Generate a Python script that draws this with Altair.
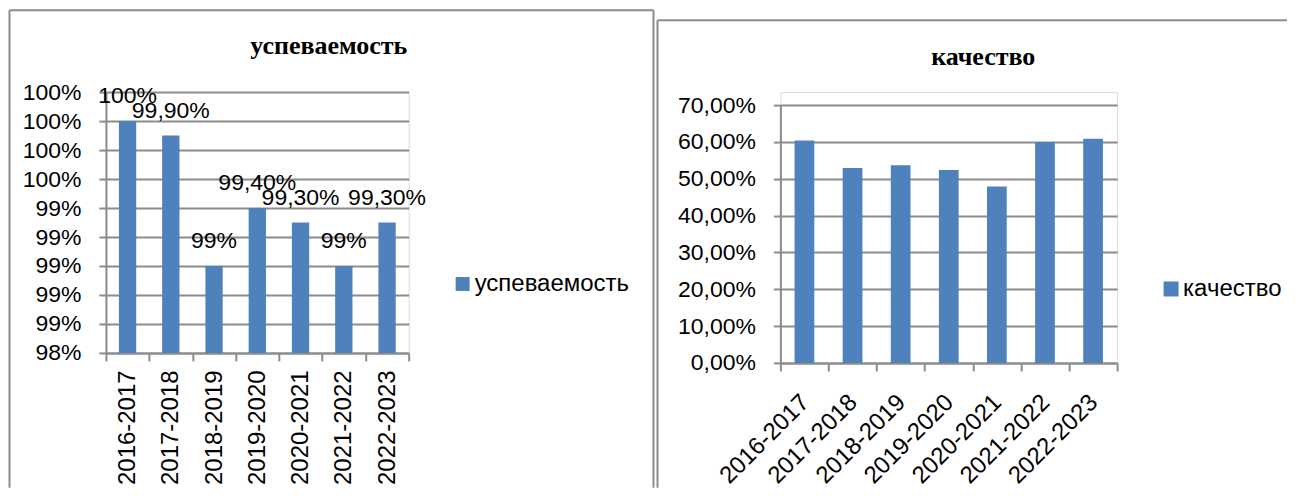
import altair as alt
import pandas as pd

years = ["2016-2017", "2017-2018", "2018-2019", "2019-2020", "2020-2021", "2021-2022", "2022-2023"]
uspev = [1.000, 0.999, 0.990, 0.994, 0.993, 0.990, 0.993]
uspev_labels = ["100%", "99,90%", "99%", "99,40%", "99,30%", "99%", "99,30%"]
kach = [0.604, 0.529, 0.537, 0.524, 0.479, 0.600, 0.609]
uspev_ticks = [0.984, 0.986, 0.988, 0.990, 0.992, 0.994, 0.996, 0.998, 1.000, 1.002]
kach_ticks = [0.0, 0.1, 0.2, 0.3, 0.4, 0.5, 0.6, 0.7]

BLUE = "#4F81BD"
GRID = "#8c8c8c"
FONT = "Liberation Sans"

df_u = pd.DataFrame({"year": years, "value": uspev, "label": uspev_labels, "series": "успеваемость"})
df_k = pd.DataFrame({"year": years, "value": kach, "series": "качество"})
one = pd.DataFrame({"a": [0]})


def x_axis(angle, pad, offset=0):
    return alt.Axis(title=None, labelAngle=angle, labelFontSize=24, labelFont=FONT, labelColor="black",
                    tickBand="extent", tickSize=8, tickColor=GRID, tickWidth=2,
                    domainColor=GRID, domainWidth=2, grid=False, labelPadding=pad,
                    labelOffset=offset)


def y_axis(values, fmt):
    return alt.Axis(title=None, values=values, format=fmt, labelFontSize=23, labelFont=FONT,
                    labelColor="black", tickSize=7, tickColor=GRID, tickWidth=2,
                    domainColor=GRID, domainWidth=2, grid=True, gridColor=GRID, gridWidth=2,
                    labelPadding=18, labelOverlap=False)


def vline(x, y1, y2):
    return alt.Chart(one).mark_rule(color=GRID, strokeWidth=2).encode(
        x=alt.value(x), y=alt.value(y1), y2=alt.value(y2))


def hline(y, x1, x2):
    return alt.Chart(one).mark_rule(color=GRID, strokeWidth=2).encode(
        x=alt.value(x1), x2=alt.value(x2), y=alt.value(y))


def title_text(txt, x, y):
    return alt.Chart(one).mark_text(font="Liberation Serif", fontWeight="bold", fontSize=26,
                                    color="black", baseline="middle", align="center").encode(
        x=alt.value(x), y=alt.value(y), text=alt.value(txt))


def legend(x, y, size):
    return alt.Legend(orient="none", legendX=x, legendY=y, title=None,
                      symbolType="square", symbolSize=size, symbolStrokeWidth=0,
                      labelFontSize=24, labelFont=FONT, labelColor="black",
                      labelOffset=0, padding=0)


# ---------- left panel ----------
u_x = alt.X("year:N", sort=years, scale=alt.Scale(paddingInner=0, paddingOuter=0), axis=x_axis(-90, 9))
u_y = alt.Y("value:Q", scale=alt.Scale(domain=[0.984, 1.002], zero=False, nice=False),
            axis=y_axis(uspev_ticks, ".0%"))
u_bars = alt.Chart(df_u).mark_bar(width=alt.RelativeBandSize(0.4)).encode(
    x=u_x, y=u_y, y2=alt.datum(0.984),
    color=alt.Color("series:N", scale=alt.Scale(range=[BLUE]), legend=legend(345, 180, 196)),
)
u_text = alt.Chart(df_u).mark_text(dy=-18, baseline="alphabetic", fontSize=23, font=FONT, color="black").encode(
    x=u_x, y=u_y, text="label:N",
)
left = alt.layer(
    vline(-96.5, -82, 396), hline(-82, -96.5, 548), vline(548, -82, 396),
    title_text("успеваемость", 223, -46),
    u_bars, u_text,
).properties(width=303, height=261)

# ---------- right panel (origin aligned with left; plot starts 13px lower) ----------
k_bars = alt.Chart(df_k).mark_bar(width=alt.RelativeBandSize(0.41)).encode(
    x=alt.X("year:N", sort=years, scale=alt.Scale(paddingInner=0, paddingOuter=0),
            axis=x_axis(-45, 19, -8)),
    y=alt.Y("value:Q", scale=alt.Scale(domain=[0, 0.7], nice=False, range=[271, 13]),
            axis=y_axis(kach_ticks, ".2%")),
    color=alt.Color("series:N", scale=alt.Scale(range=[BLUE]), legend=legend(379, 185, 225)),
)
right = alt.layer(
    vline(-123, -72, 396), hline(-72, -123, 507),
    title_text("качество", 203, -35),
    k_bars,
).properties(width=337, height=271)

chart = alt.hconcat(left, right, spacing=0, padding=0).resolve_scale(color="independent").configure_view(
    strokeWidth=0
).configure(
    locale={"number": {"decimal": ",", "thousands": "\u00a0", "grouping": [3], "currency": ["", "\u00a0₽"]}}
)

chart.save("out.html", embed_options={"renderer": "svg", "actions": False})
